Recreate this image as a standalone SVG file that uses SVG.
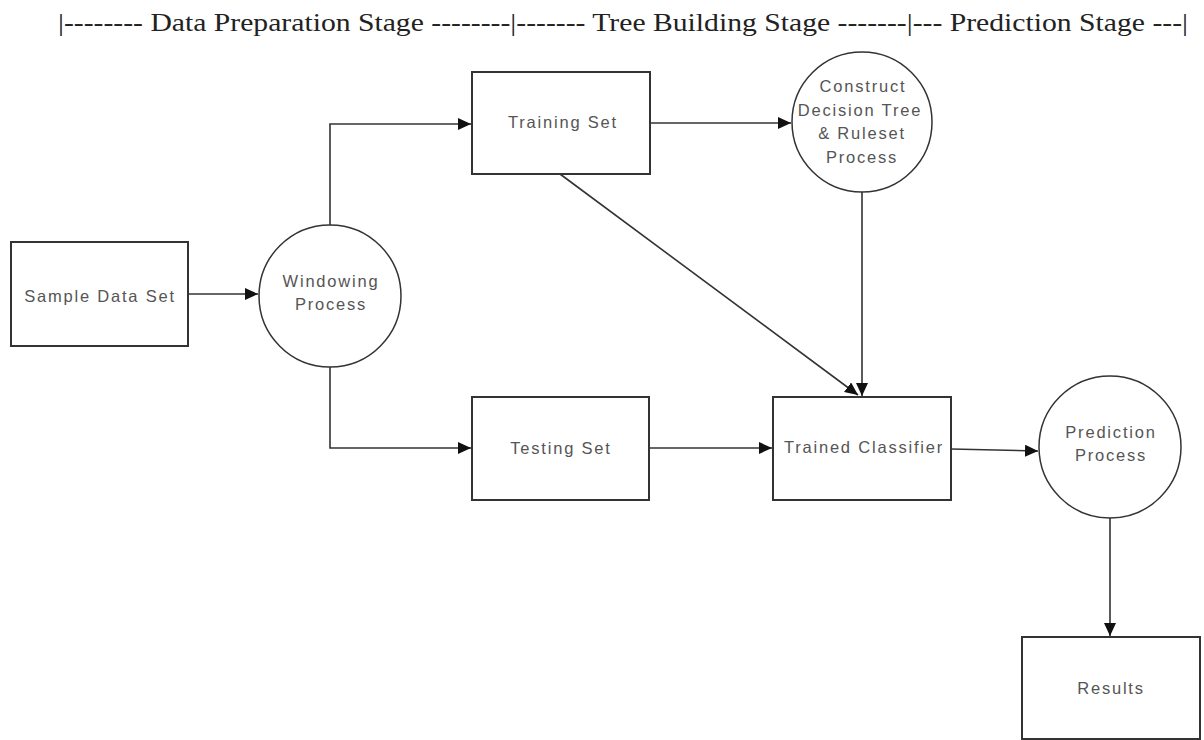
<svg xmlns="http://www.w3.org/2000/svg" width="1204" height="740" viewBox="0 0 1204 740">
<style>
.box{fill:#fff;stroke:#333;stroke-width:2}
.circ{fill:#fff;stroke:#333;stroke-width:1.5}
.lbl{font-family:"Liberation Sans",Arial,sans-serif;font-size:16.5px;letter-spacing:1.8px;fill:#555;text-anchor:middle;dominant-baseline:central}
.conn{fill:none;stroke:#333;stroke-width:1.6}
.title{font-family:"Liberation Serif","Times New Roman",serif;font-size:26px;fill:#222}
</style>
<defs>
<marker id="arr" markerUnits="userSpaceOnUse" markerWidth="14" markerHeight="12" refX="13" refY="6" orient="auto">
<path d="M0,0 L13,6 L0,12 Z" fill="#111"/>
</marker>
</defs>
<text class="title" x="58" y="31" textLength="1130" lengthAdjust="spacingAndGlyphs">|-------- Data Preparation Stage --------|------- Tree Building Stage -------|--- Prediction Stage ---|</text>
<g id="connectors">
<line class="conn" x1="188" y1="294" x2="258" y2="294" marker-end="url(#arr)"/>
<polyline class="conn" points="330,225 330,124 471,124" marker-end="url(#arr)"/>
<polyline class="conn" points="330,367 330,448 471,448" marker-end="url(#arr)"/>
<line class="conn" x1="650" y1="123" x2="791" y2="123" marker-end="url(#arr)"/>
<line class="conn" x1="560" y1="174" x2="858" y2="395" marker-end="url(#arr)"/>
<line class="conn" x1="862" y1="192" x2="862" y2="396" marker-end="url(#arr)"/>
<line class="conn" x1="649" y1="448" x2="772" y2="448" marker-end="url(#arr)"/>
<line class="conn" x1="951" y1="449" x2="1038" y2="451" marker-end="url(#arr)"/>
<line class="conn" x1="1110" y1="518" x2="1110" y2="636" marker-end="url(#arr)"/>
</g>
<g id="sample-data-set">
<rect class="box" x="11" y="242" width="177" height="104"/>
<text class="lbl" x="100" y="296">Sample Data Set</text>
</g>
<g id="windowing-process">
<circle class="circ" cx="330" cy="296" r="71"/>
<text class="lbl" x="331" y="281">Windowing</text>
<text class="lbl" x="331" y="304">Process</text>
</g>
<g id="training-set">
<rect class="box" x="472" y="72" width="178" height="102"/>
<text class="lbl" x="563" y="122">Training Set</text>
</g>
<g id="construct-process">
<circle class="circ" cx="862" cy="122" r="70"/>
<text class="lbl" x="863" y="86">Construct</text>
<text class="lbl" x="860" y="110">Decision Tree</text>
<text class="lbl" x="862" y="133">&amp; Ruleset</text>
<text class="lbl" x="862" y="157">Process</text>
</g>
<g id="testing-set">
<rect class="box" x="472" y="397" width="177" height="103"/>
<text class="lbl" x="561" y="448">Testing Set</text>
</g>
<g id="trained-classifier">
<rect class="box" x="773" y="397" width="178" height="103"/>
<text class="lbl" x="864" y="447">Trained Classifier</text>
</g>
<g id="prediction-process">
<circle class="circ" cx="1110" cy="447" r="71"/>
<text class="lbl" x="1111" y="432">Prediction</text>
<text class="lbl" x="1111" y="455">Process</text>
</g>
<g id="results">
<rect class="box" x="1022" y="637" width="178" height="102"/>
<text class="lbl" x="1111" y="688">Results</text>
</g>
</svg>
